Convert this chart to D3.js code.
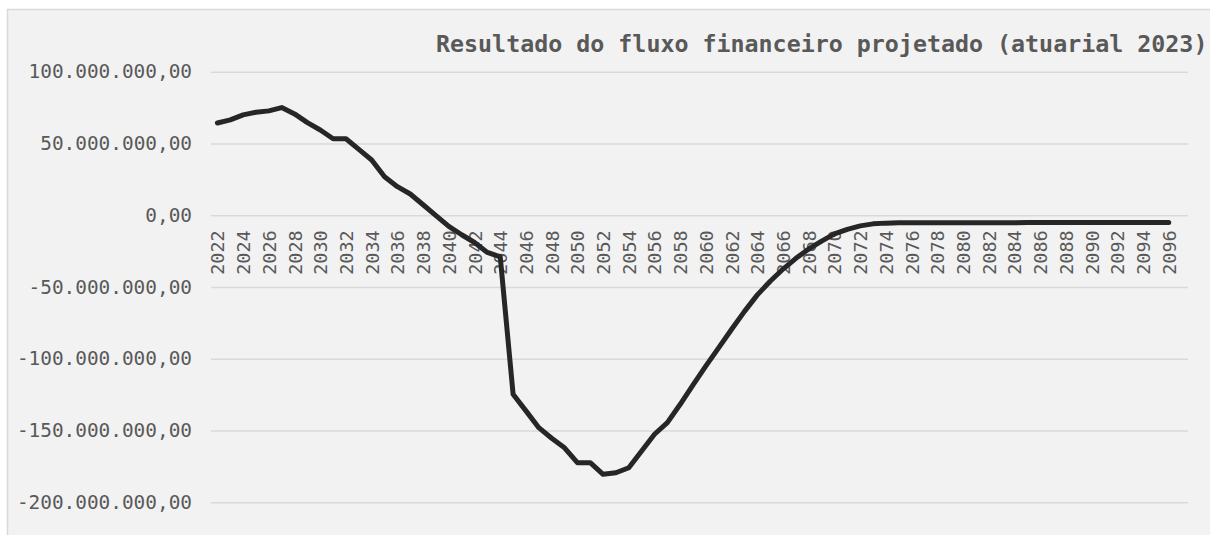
<!DOCTYPE html>
<html>
<head>
<meta charset="utf-8">
<script src="https://cdn.jsdelivr.net/npm/d3@7"></script>
<style>
    html, body { margin: 0; padding: 0; background: #ffffff; }
    #chart { width: 1210px; height: 535px; }
</style>
</head>
<body>
<div id="chart"></div>
<script>
// categories: one per year
const years = d3.range(2022, 2097);

// resultado do fluxo, em milhões de reais
const resultadoMi = [
    64.3, 66.4, 69.9, 71.7, 72.7, 75.0, 70.6, 64.5, 59.4, 53.3,
    53.3, 45.9, 38.5, 26.8, 19.9, 14.8, 7.3, -0.3, -7.8, -13.6,
    -19.0, -25.9, -29.0, -124.7, -136.3, -148.0, -155.4, -162.0, -172.4, -172.4,
    -180.5, -179.4, -175.9, -164.2, -152.6, -144.5, -131.7, -118.2, -105.0, -92.2,
    -79.4, -67.0, -55.5, -46.0, -37.5, -30.0, -23.5, -18.0, -13.0, -9.8,
    -7.4, -6.0, -5.5, -5.3, -5.3, -5.3, -5.3, -5.3, -5.2, -5.2,
    -5.2, -5.2, -5.2, -5.1, -5.1, -5.1, -5.1, -5.1, -5.1, -5.1,
    -5.0, -5.0, -5.0, -5.0, -5.0
];

const yTicks = [100e6, 50e6, 0, -50e6, -100e6, -150e6, -200e6];
const xTickYears = years.filter(y => (y - 2022) % 2 === 0);
const chartTitle = "Resultado do fluxo financeiro projetado (atuarial 2023)";

function LineChart() {

    let self = this;

    self.initialize = function(conf) {
        self.el = document.getElementById(conf.el);
        self.graphWidth = 1210;
        self.graphHeight = 535;
        self.plot = {left: 211, right: 1188, top: 71.7, bottom: 502.3};
        self.font = "'DejaVu Sans Mono', 'Liberation Mono', monospace";
        self.textColor = "#595959";
        self.gridColor = "#d9d9d9";

        self.data = years.map((y, i) => ({year: y, value: resultadoMi[i] * 1e6}));

        // one extra empty slot at the end, as in the spreadsheet axis
        self.x = d3.scaleLinear()
                    .domain([2021.5, 2097.5])
                    .range([self.plot.left, self.plot.right]);
        self.y = d3.scaleLinear()
                    .domain([-200e6, 100e6])
                    .range([self.plot.bottom, self.plot.top]);

        self.render();
    };

    self.render = function() {
        self.svg = d3.select(self.el).append("svg")
                    .attr("width", self.graphWidth)
                    .attr("height", self.graphHeight);

        self.svg.append("rect")
            .attr("x", 7.5).attr("y", 9.5)
            .attr("width", self.graphWidth + 20)
            .attr("height", self.graphHeight + 20)
            .attr("fill", "#f2f2f2")
            .attr("stroke", self.gridColor)
            .attr("stroke-width", 1.5);

        self.svg.append("text")
            .attr("x", 436)
            .attr("y", 52)
            .attr("font-family", self.font)
            .attr("font-size", 23.3)
            .attr("font-weight", "bold")
            .attr("fill", self.textColor)
            .text(chartTitle);

        self.renderYAxis();
        self.renderXAxis();
        self.renderLine();
    };

    self.renderYAxis = function() {
        const fmt = d3.formatLocale({decimal: ",", thousands: ".", grouping: [3], currency: ["R$", ""]}).format(",.2f");

        const yAxis = d3.axisLeft(self.y)
                        .tickValues(yTicks)
                        .tickSize(-(self.plot.right - self.plot.left))
                        .tickPadding(19)
                        .tickFormat(d => fmt(d).replace("−", "-"));

        const g = self.svg.append("g")
                    .attr("transform", "translate(" + self.plot.left + ",0)")
                    .call(yAxis);
        g.select(".domain").remove();
        g.selectAll(".tick line")
            .attr("stroke", self.gridColor)
            .attr("stroke-width", 1.5);
        g.selectAll(".tick text")
            .attr("font-family", self.font)
            .attr("font-size", 19.4)
            .attr("fill", self.textColor);
    };

    self.renderXAxis = function() {
        // labels hang below the zero line, rotated
        const xAxis = d3.axisBottom(self.x)
                        .tickValues(xTickYears)
                        .tickSize(0)
                        .tickFormat(d3.format("d"));

        const g = self.svg.append("g")
                    .attr("transform", "translate(0," + self.y(0) + ")")
                    .call(xAxis);
        g.select(".domain").remove();
        g.selectAll(".tick text")
            .attr("font-family", self.font)
            .attr("font-size", 18.5)
            .attr("fill", self.textColor)
            .attr("text-anchor", "end")
            .attr("dy", "0.35em")
            .attr("transform", "translate(0,15) rotate(-90)")
            .attr("x", 0)
            .attr("y", 0);
    };

    self.renderLine = function() {
        const line = d3.line()
                        .x(d => self.x(d.year))
                        .y(d => self.y(d.value));

        self.svg.append("path")
            .datum(self.data)
            .attr("fill", "none")
            .attr("stroke", "#262626")
            .attr("stroke-width", 5)
            .attr("stroke-linejoin", "round")
            .attr("stroke-linecap", "round")
            .attr("d", line);
    };
}

const chart = new LineChart();
chart.initialize({el: "chart"});
</script>
</body>
</html>
